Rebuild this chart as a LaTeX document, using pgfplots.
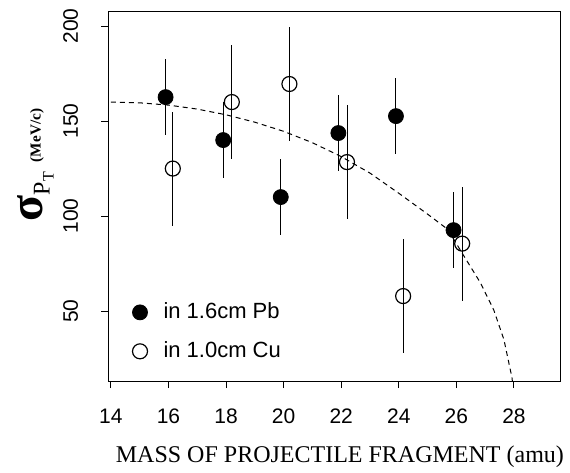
\documentclass[border=0pt]{standalone}
\usepackage{fontspec}
\setmainfont{Liberation Serif}
\setsansfont{Liberation Sans}
\usepackage{pgfplots}
\pgfplotsset{compat=1.18}

\begin{document}
\begin{tikzpicture}
\begin{axis}[
    scale only axis,
    width=226pt, height=184.5pt,
    xmin=13.9, xmax=29.6,
    ymin=13.2, ymax=207.4,
    xtick={14,16,...,28},
    ytick={50,100,150,200},
    tick align=outside,
    xtick pos=bottom, ytick pos=left,
    major tick length=3.5pt,
    axis line style={line width=0.5pt},
    tick style={line width=0.5pt, black},
    /pgf/number format/assume math mode=true,
    ticklabel style={font=\sffamily\fontsize{10.5}{12}\selectfont},
    yticklabel style={rotate=90, anchor=south, yshift=8pt},
    xticklabel style={yshift=-7pt},
    xlabel={MASS OF PROJECTILE FRAGMENT (amu)},
    xlabel style={at={(axis description cs:0.513,-0.205)}, anchor=center,
        font=\fontsize{12}{14}\selectfont},
    ylabel={{\fontsize{24}{24}\selectfont\textbf{σ}}\raisebox{-3.5pt}{\fontsize{12}{12}\selectfont P\raisebox{-2pt}{\fontsize{8}{8}\selectfont T}}\hspace{5pt}\raisebox{1pt}{\fontsize{7.6}{8}\selectfont\bfseries (MeV/c)}},
    ylabel style={at={(axis description cs:-0.16,0.585)}, anchor=center},
    legend style={at={(axis description cs:0.04,0.032)}, anchor=south west,
        draw=none, fill=none, font=\sffamily\fontsize{11}{13}\selectfont,
        row sep=6pt,
        /tikz/every odd column/.append style={column sep=6pt}},
    legend cell align=left,
    clip=true,
]
% dashed fit curve
\addplot[black, line width=0.5pt, dash pattern=on 2.5pt off 2pt, forget plot] coordinates {
    (14,160) (15,159.6) (16,158.4) (17,156.3) (18,153.3) (19,149.4)
    (20,144.6) (21,138.6) (22,131.3) (23,122.6) (24,112) (25,101)
    (25.7,93) (26.26,79) (26.83,65) (27.3,50.5) (27.65,35) (27.93,15) (27.98,8)
};
% in 1.6cm Pb
\addplot[only marks, mark=*, mark size=3.75pt, mark options={fill=black, draw=black},
    error bars/.cd, y dir=both, y explicit, error mark=none,
    error bar style={line width=0.5pt, black}] coordinates {
    (15.9,162.6) +- (0,20)
    (17.9,140) +- (0,20)
    (19.9,110) +- (0,20)
    (21.9,143.7) +- (0,20)
    (23.9,152.6) +- (0,20)
    (25.9,92.6) +- (0,20)
};
\addlegendentry{in 1.6cm Pb}
% in 1.0cm Cu
\addplot[only marks, mark=o, mark size=3.75pt, mark options={fill=white, draw=black, line width=0.6pt},
    error bars/.cd, y dir=both, y explicit, error mark=none,
    error bar style={line width=0.5pt, black}] coordinates {
    (16.15,125) +- (0,30)
    (18.2,160) +- (0,30)
    (20.2,169.5) +- (0,30)
    (22.2,128.4) +- (0,30)
    (24.15,57.9) +- (0,30)
    (26.2,85.5) +- (0,30)
};
\addlegendentry{in 1.0cm Cu}
\coordinate (bbl) at (axis description cs:-0.239,-0.249);
\coordinate (bbr) at (axis description cs:1.022,1.0325);
\end{axis}
\pgfresetboundingbox
\path[use as bounding box] (bbl) rectangle (bbr);
\end{tikzpicture}
\end{document}
